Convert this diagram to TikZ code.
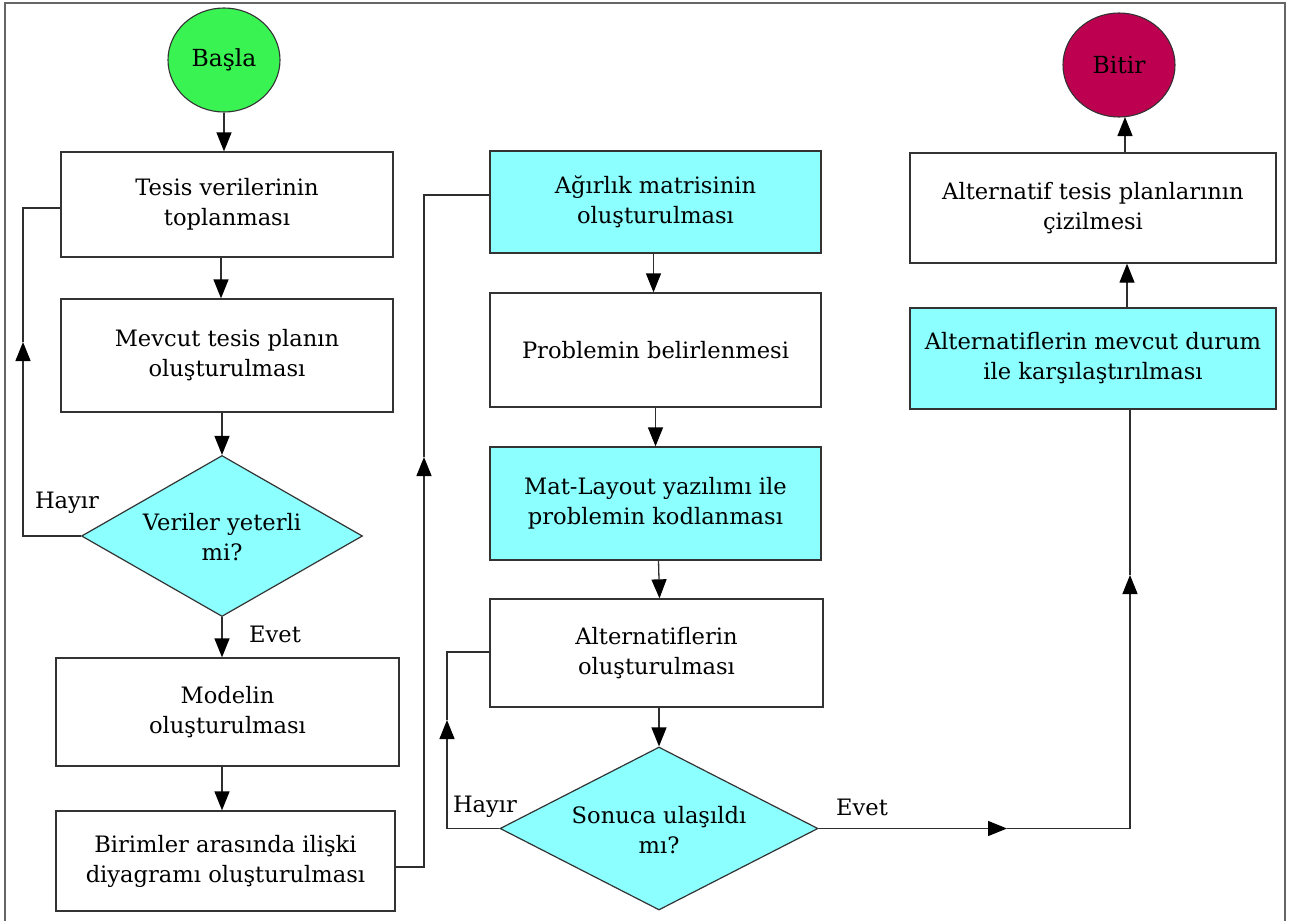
\documentclass[tikz,border=0pt]{standalone}
\usepackage{fontspec}
\setmainfont{DejaVu Serif}
\usetikzlibrary{shapes.geometric,arrows.meta}
\definecolor{cyanfill}{HTML}{8CFFFF}
\definecolor{startgreen}{HTML}{38F352}
\definecolor{endred}{HTML}{BE0050}
\definecolor{boxgray}{HTML}{333333}
\definecolor{linegray}{HTML}{2E2E2E}
\definecolor{framegray}{HTML}{666666}
\begin{document}
\begin{tikzpicture}[x=1pt,y=-1pt,
  every node/.style={font=\fontsize{22.6}{30}\selectfont, text=black},
  box/.style={draw=boxgray, line width=1.3pt, fill=white, inner sep=0pt, align=center},
  cbox/.style={box, fill=cyanfill},
  dia/.style={draw=boxgray, line width=1.2pt, fill=cyanfill, diamond, inner sep=0pt},
  term/.style={ellipse, draw=boxgray, line width=1.1pt, inner sep=0pt, minimum width=112pt, minimum height=104pt},
  conn/.style={draw=linegray, line width=1.3pt},
  arr/.style={conn, -{Triangle[width=15pt,length=19pt,fill=black,color=black]}},
  lbl/.style={inner sep=0pt, align=center},
  termtxt/.style={lbl, font=\fontsize{23.5}{30}\selectfont}
]
\useasboundingbox (0,0) rectangle (1290,921);
\draw[framegray, line width=1.4pt] (5,921) -- (5,3) -- (1285,3) -- (1285,921);

% left column
\node[term, fill=startgreen] (bas) at (224,60) {};
\node[termtxt] (bastxt) at (bas.center) {Başla};
\node[box, minimum width=332pt, minimum height=105pt] (b1) at (227,204.5) {Tesis verilerinin\\toplanması};
\node[box, minimum width=332pt, minimum height=113pt] (b2) at (227,355.5) {Mevcut tesis planın\\oluşturulması};
\node[dia, minimum width=281pt, minimum height=161pt] (d1) at (222,536) {};
\node[lbl] (d1txt) at (222,537) {Veriler yeterli\\mi?};
\node[box, minimum width=343pt, minimum height=108pt] (mod) at (227.5,712) {Modelin\\oluşturulması};
\node[box, minimum width=339pt, minimum height=100pt] (bir) at (225.5,861) {Birimler arasında ilişki\\diyagramı oluşturulması};

% middle column
\node[cbox, minimum width=331pt, minimum height=102pt] (agr) at (655.5,202) {Ağırlık matrisinin\\oluşturulması};
\node[box, minimum width=331pt, minimum height=114pt] (prb) at (655.5,350) {Problemin belirlenmesi};
\node[cbox, minimum width=331pt, minimum height=113pt] (mat) at (655.5,503.5) {Mat-Layout yazılımı ile\\problemin kodlanması};
\node[box, minimum width=333pt, minimum height=108pt] (alt) at (656.5,653) {Alternatiflerin\\oluşturulması};
\node[dia, minimum width=318pt, minimum height=163pt] (d2) at (659,828.5) {};
\node[lbl] (d2txt) at (659,830) {Sonuca ulaşıldı\\mı?};

% right column
\node[term, fill=endred] (bit) at (1119,65) {};
\node[termtxt] (bittxt) at (bit.center) {Bitir};
\node[box, minimum width=366pt, minimum height=110pt] (atp) at (1093,208) {Alternatif tesis planlarının\\çizilmesi};
\node[cbox, minimum width=366pt, minimum height=101pt] (cmp) at (1093,358.5) {Alternatiflerin mevcut durum\\ile karşılaştırılması};

% labels
\node[lbl] (hay1) at (67,503) {Hayır};
\node[lbl] (evet1) at (275,634) {Evet};
\node[lbl] (hay2) at (485,807) {Hayır};
\node[lbl] (evet2) at (862,807) {Evet};

% straight arrows
\draw[arr] (bas.south) -- (bas.south |- b1.north);
\draw[arr] ([xshift=-6pt]b1.south) -- ([xshift=-6pt]b2.north);
\draw[arr] (d1.south |- b2.south) -- (d1.north);
\draw[arr] (d1.south) -- (d1.south |- mod.north);
\draw[arr] (d1.south |- mod.south) -- (d1.south |- bir.north);

\draw[arr] ([xshift=-2pt]agr.south) -- ([xshift=-2pt]prb.north);
\draw[arr] (prb.south) -- (prb.north |- mat.north);
\draw[arr] ([xshift=3pt]mat.south) -- ([xshift=3pt]alt.north);
\draw[arr] (d2.north |- alt.south) -- (d2.north);

% loop 1: Hayir back to data collection
\coordinate (l1a) at (23,536);
\coordinate (l1b) at (23,342);
\coordinate (l1c) at (23,208);
\draw[arr] (d1.west) -- (l1a) -- (l1b);
\draw[conn] (l1b) -- (l1c) -- (b1.west |- l1c);

% connector from Birimler to Agirlik
\coordinate (l2a) at (424,867);
\coordinate (l2b) at (424,457);
\coordinate (l2c) at (424,195);
\draw[arr] (bir.east |- l2a) -- (l2a) -- (l2b);
\draw[conn] (l2b) -- (l2c) -- (agr.west |- l2c);

% loop 2: Hayir back to alternatives
\coordinate (l3a) at (447,828.5);
\coordinate (l3b) at (447,720);
\coordinate (l3c) at (447,652);
\draw[arr] (d2.west) -- (l3a) -- (l3b);
\draw[conn] (l3b) -- (l3c) -- (alt.west |- l3c);

% Evet to comparison
\coordinate (e1) at (1007,828.5);
\coordinate (e2) at (1130,828.5);
\coordinate (e3) at (1130,575);
\draw[arr] (d2.east) -- (e1);
\draw[arr] (e1) -- (e2) -- (e3);
\draw[conn] (e3) -- (e3 |- cmp.south);
\draw[arr] ([xshift=-3pt]e3 |- cmp.north) -- ([xshift=-3pt]e3 |- atp.south);
\draw[arr] ([xshift=6pt]bit.south |- atp.north) -- ([xshift=6pt]bit.south |- 0,117);
\end{tikzpicture}
\end{document}
